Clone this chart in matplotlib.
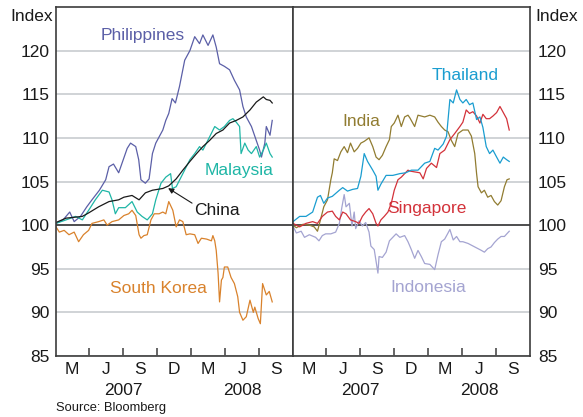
"""
Asian equity indices, two panels (index = 100 at start of Feb 2007).
Output: out.png
"""

import matplotlib
matplotlib.use("Agg")
import matplotlib.pyplot as plt
import matplotlib.transforms as mtransforms
import pandas as pd

# ── Data ─────────────────────────────────────────────────────────────────────
phl_dates = [
    "2007-02-01", "2007-02-20", "2007-03-10", "2007-03-22", "2007-04-08", "2007-04-25",
    "2007-05-09", "2007-05-29", "2007-06-15", "2007-06-24", "2007-07-06", "2007-07-20",
    "2007-08-12", "2007-08-21", "2007-09-04", "2007-09-12", "2007-09-18", "2007-09-30",
    "2007-10-10", "2007-10-19", "2007-10-28", "2007-11-16", "2007-11-24", "2007-12-02",
    "2007-12-11", "2007-12-20", "2007-12-31", "2008-01-14", "2008-01-28", "2008-02-10",
    "2008-02-23", "2008-03-03", "2008-03-17", "2008-03-30", "2008-04-08", "2008-04-17",
    "2008-04-30", "2008-05-14", "2008-05-27", "2008-06-10", "2008-06-19", "2008-06-28",
    "2008-07-12", "2008-07-25", "2008-08-03", "2008-08-08", "2008-08-17", "2008-08-21",
    "2008-08-31", "2008-09-06",
]
phl_values = [
    100.2, 100.6, 101.5, 100.4, 101.0, 102.1, 102.9, 104.0, 105.2, 106.7, 107.0, 106.0,
    108.8, 109.4, 109.0, 107.5, 105.2, 104.8, 105.3, 108.2, 109.4, 110.9, 112.0, 112.8,
    114.5, 114.0, 115.9, 118.9, 120.0, 121.6, 120.8, 121.8, 120.6, 121.8, 120.4, 118.5,
    118.2, 117.8, 116.6, 115.5, 113.6, 112.4, 111.3, 109.7, 108.6, 107.8, 109.4, 111.3,
    110.3, 112.0,
]

chn_dates = [
    "2007-02-01", "2007-02-28", "2007-04-13", "2007-04-30", "2007-05-27", "2007-06-24",
    "2007-07-20", "2007-08-03", "2007-08-25", "2007-09-13", "2007-09-30", "2007-10-19",
    "2007-11-16", "2007-12-02", "2007-12-22", "2008-01-09", "2008-01-28", "2008-02-15",
    "2008-03-03", "2008-03-21", "2008-04-08", "2008-04-26", "2008-05-14", "2008-06-01",
    "2008-06-19", "2008-07-08", "2008-07-25", "2008-08-13", "2008-08-21", "2008-08-31",
    "2008-09-06",
]
chn_values = [
    100.3, 100.8, 101.0, 101.4, 102.1, 102.7, 102.9, 103.2, 103.4, 102.9, 103.7, 104.0,
    104.2, 104.5, 105.3, 106.3, 107.3, 108.2, 109.0, 109.7, 110.5, 110.9, 111.7, 112.0,
    112.4, 113.2, 114.1, 114.7, 114.4, 114.3, 114.0,
]

mys_dates = [
    "2007-02-01", "2007-02-28", "2007-03-26", "2007-04-13", "2007-04-30", "2007-05-18",
    "2007-06-06", "2007-06-24", "2007-07-02", "2007-07-11", "2007-07-20", "2007-08-07",
    "2007-08-25", "2007-09-08", "2007-09-21", "2007-10-05", "2007-10-19", "2007-10-28",
    "2007-11-11", "2007-11-24", "2007-12-07", "2007-12-12", "2007-12-22", "2008-01-09",
    "2008-01-28", "2008-02-10", "2008-02-23", "2008-03-03", "2008-03-21", "2008-04-04",
    "2008-04-17", "2008-04-30", "2008-05-14", "2008-05-23", "2008-06-01", "2008-06-10",
    "2008-06-14", "2008-06-24", "2008-07-03", "2008-07-12", "2008-07-25", "2008-08-03",
    "2008-08-13", "2008-08-21", "2008-08-31", "2008-09-06",
]
mys_values = [
    100.2, 100.6, 101.0, 100.6, 101.7, 102.9, 104.0, 103.8, 102.9, 101.3, 102.0, 102.0,
    102.7, 101.5, 101.0, 100.6, 101.3, 102.9, 104.8, 105.5, 105.9, 104.2, 104.4, 105.9,
    107.5, 108.2, 109.0, 108.6, 110.1, 111.3, 110.9, 111.3, 112.0, 112.2, 111.8, 111.3,
    108.2, 109.4, 108.6, 108.2, 109.0, 107.8, 108.6, 109.4, 108.2, 107.8,
]

kor_dates = [
    "2007-02-01", "2007-02-10", "2007-02-23", "2007-03-08", "2007-03-22", "2007-04-03",
    "2007-04-16", "2007-04-30", "2007-05-09", "2007-05-27", "2007-06-10", "2007-06-19",
    "2007-07-02", "2007-07-20", "2007-08-03", "2007-08-16", "2007-08-25", "2007-09-04",
    "2007-09-13", "2007-09-18", "2007-09-26", "2007-10-05", "2007-10-15", "2007-10-24",
    "2007-11-06", "2007-11-16", "2007-11-24", "2007-12-02", "2007-12-13", "2007-12-22",
    "2007-12-31", "2008-01-09", "2008-01-18", "2008-01-28", "2008-02-10", "2008-02-19",
    "2008-02-28", "2008-03-13", "2008-03-26", "2008-03-30", "2008-04-04", "2008-04-08",
    "2008-04-13", "2008-04-17", "2008-04-22", "2008-04-26", "2008-04-30", "2008-05-09",
    "2008-05-18", "2008-05-27", "2008-06-05", "2008-06-10", "2008-06-19", "2008-06-28",
    "2008-07-08", "2008-07-17", "2008-07-21", "2008-07-30", "2008-08-05", "2008-08-11",
    "2008-08-21", "2008-08-29", "2008-09-06",
]
kor_values = [
    99.8, 99.2, 99.4, 98.9, 99.2, 98.1, 98.9, 99.4, 100.2, 100.4, 100.6, 100.0,
    100.4, 100.6, 101.1, 101.3, 101.7, 101.1, 98.9, 98.5, 98.8, 98.9, 100.6, 101.3,
    101.3, 101.5, 101.3, 102.7, 101.7, 99.8, 100.6, 100.4, 98.9, 99.0, 98.9, 97.9,
    98.5, 98.4, 98.2, 98.8, 98.2, 97.1, 94.5, 91.2, 93.7, 94.0, 95.2, 95.2,
    94.0, 93.3, 91.8, 90.0, 89.1, 89.5, 91.4, 90.0, 90.6, 89.3, 88.7, 93.3,
    92.0, 92.4, 91.2,
]

ind_dates = [
    "2007-02-01", "2007-02-10", "2007-02-28", "2007-03-17", "2007-03-30", "2007-04-08",
    "2007-04-16", "2007-04-25", "2007-05-05", "2007-05-14", "2007-05-18", "2007-05-23",
    "2007-06-01", "2007-06-10", "2007-06-19", "2007-06-28", "2007-07-06", "2007-07-16",
    "2007-07-25", "2007-08-03", "2007-08-12", "2007-08-25", "2007-09-04", "2007-09-13",
    "2007-09-21", "2007-09-30", "2007-10-10", "2007-10-19", "2007-10-24", "2007-11-01",
    "2007-11-11", "2007-11-20", "2007-11-29", "2007-12-08", "2007-12-13", "2007-12-26",
    "2008-01-04", "2008-01-22", "2008-02-05", "2008-02-18", "2008-02-27", "2008-03-07",
    "2008-03-16", "2008-03-25", "2008-04-03", "2008-04-12", "2008-04-21", "2008-05-04",
    "2008-05-18", "2008-05-27", "2008-06-05", "2008-06-10", "2008-06-14", "2008-06-23",
    "2008-07-01", "2008-07-10", "2008-07-19", "2008-07-28", "2008-08-06", "2008-08-15",
    "2008-08-24", "2008-08-31", "2008-09-06",
]
ind_values = [
    100.0, 99.7, 100.1, 100.0, 99.8, 99.3, 100.6, 102.1, 102.9, 105.2, 106.0, 107.6,
    107.4, 108.4, 109.0, 108.3, 109.4, 108.4, 108.8, 109.4, 109.6, 110.0, 109.0, 107.8,
    107.5, 108.0, 109.0, 109.8, 111.3, 111.7, 112.6, 111.3, 112.4, 112.6, 112.3, 111.3,
    112.6, 112.4, 112.6, 112.4, 111.8, 111.3, 110.9, 110.7, 109.7, 109.0, 110.5, 110.9,
    110.9, 110.2, 108.2, 105.9, 104.4, 103.7, 104.0, 103.2, 103.4, 102.7, 102.3, 102.8,
    104.4, 105.2, 105.3,
]

tha_dates = [
    "2007-02-01", "2007-02-19", "2007-03-08", "2007-03-26", "2007-04-08", "2007-04-16",
    "2007-04-25", "2007-05-05", "2007-05-18", "2007-06-06", "2007-06-15", "2007-06-28",
    "2007-07-12", "2007-07-25", "2007-08-03", "2007-08-12", "2007-08-21", "2007-09-04",
    "2007-09-13", "2007-09-18", "2007-09-26", "2007-10-10", "2007-10-28", "2007-11-16",
    "2007-12-02", "2007-12-17", "2008-01-04", "2008-01-22", "2008-02-05", "2008-02-18",
    "2008-02-27", "2008-03-12", "2008-03-21", "2008-03-30", "2008-04-08", "2008-04-17",
    "2008-04-26", "2008-05-04", "2008-05-13", "2008-05-22", "2008-05-31", "2008-06-10",
    "2008-06-19", "2008-06-27", "2008-07-06", "2008-07-15", "2008-07-24", "2008-08-03",
    "2008-08-12", "2008-08-21", "2008-08-30", "2008-09-06",
]
tha_values = [
    100.4, 101.0, 101.0, 101.5, 103.2, 103.4, 102.5, 103.1, 103.3, 104.0, 104.3, 103.9,
    104.1, 104.2, 105.6, 108.2, 107.3, 106.3, 105.6, 104.0, 104.7, 105.7, 105.7, 105.9,
    106.0, 106.3, 106.3, 107.1, 107.3, 108.8, 108.6, 109.3, 110.2, 114.4, 114.0, 115.5,
    114.4, 114.0, 114.4, 113.8, 114.0, 112.1, 112.4, 111.2, 109.0, 108.2, 108.6, 107.8,
    107.1, 107.8, 107.5, 107.3,
]

sgp_dates = [
    "2007-02-01", "2007-02-19", "2007-03-08", "2007-03-26", "2007-04-08", "2007-04-21",
    "2007-05-05", "2007-05-18", "2007-05-27", "2007-06-06", "2007-06-15", "2007-06-24",
    "2007-07-06", "2007-07-20", "2007-07-29", "2007-08-07", "2007-08-16", "2007-08-25",
    "2007-09-04", "2007-09-13", "2007-09-18", "2007-09-26", "2007-10-05", "2007-10-15",
    "2007-10-24", "2007-11-01", "2007-11-11", "2007-11-20", "2007-11-29", "2007-12-08",
    "2007-12-13", "2007-12-26", "2008-01-09", "2008-01-18", "2008-01-27", "2008-02-09",
    "2008-02-23", "2008-03-03", "2008-03-16", "2008-03-30", "2008-04-12", "2008-04-26",
    "2008-05-04", "2008-05-13", "2008-05-22", "2008-05-31", "2008-06-10", "2008-06-19",
    "2008-06-27", "2008-07-06", "2008-07-15", "2008-07-24", "2008-08-03", "2008-08-12",
    "2008-08-21", "2008-08-30", "2008-09-06",
]
sgp_values = [
    100.2, 99.8, 100.2, 100.4, 100.2, 101.0, 101.5, 101.6, 101.0, 100.6, 101.5, 101.3,
    100.6, 100.4, 100.2, 101.0, 101.5, 101.9, 101.3, 100.2, 99.9, 100.6, 101.0, 101.5,
    102.5, 104.0, 105.2, 105.5, 105.9, 106.3, 106.2, 106.1, 106.0, 105.3, 106.5, 107.1,
    106.6, 108.2, 108.6, 109.8, 110.5, 111.3, 111.8, 113.2, 112.8, 113.0, 112.5, 111.7,
    112.7, 112.2, 112.2, 112.5, 112.9, 113.6, 112.9, 112.2, 110.9,
]

idn_dates = [
    "2007-02-01", "2007-02-10", "2007-02-23", "2007-03-04", "2007-03-17", "2007-04-03",
    "2007-04-12", "2007-04-21", "2007-04-30", "2007-05-14", "2007-05-27", "2007-06-06",
    "2007-06-13", "2007-06-19", "2007-06-24", "2007-07-03", "2007-07-10", "2007-07-16",
    "2007-07-20", "2007-07-29", "2007-08-07", "2007-08-16", "2007-08-25", "2007-08-30",
    "2007-09-08", "2007-09-18", "2007-09-21", "2007-09-30", "2007-10-10", "2007-10-19",
    "2007-10-28", "2007-11-06", "2007-11-16", "2007-11-29", "2007-12-08", "2007-12-17",
    "2007-12-26", "2008-01-04", "2008-01-13", "2008-01-22", "2008-02-05", "2008-02-18",
    "2008-02-27", "2008-03-07", "2008-03-16", "2008-03-25", "2008-03-30", "2008-04-08",
    "2008-04-17", "2008-04-26", "2008-05-04", "2008-05-18", "2008-05-27", "2008-06-05",
    "2008-06-14", "2008-06-23", "2008-07-01", "2008-07-10", "2008-07-19", "2008-07-28",
    "2008-08-06", "2008-08-15", "2008-08-24", "2008-09-06",
]
idn_values = [
    99.9, 99.1, 99.3, 98.6, 98.9, 98.6, 98.2, 98.8, 99.0, 99.0, 99.2, 100.2,
    102.1, 103.5, 102.1, 102.5, 99.9, 101.5, 99.6, 100.5, 99.9, 100.3, 99.2, 97.6,
    97.2, 94.5, 96.4, 96.3, 96.9, 98.2, 98.6, 99.0, 98.6, 98.8, 98.1, 97.2,
    96.2, 97.1, 96.4, 95.6, 95.5, 94.9, 96.6, 98.1, 98.4, 99.1, 99.5, 98.3,
    98.7, 98.1, 98.1, 97.9, 97.7, 97.5, 97.3, 97.1, 96.9, 97.3, 97.5, 98.0,
    98.4, 98.7, 98.7, 99.3,
]

# axis furniture
x_range = ["2007-02-01", "2008-11-01"]
quarter_ticks = ["2007-05-01", "2007-08-01", "2007-11-01", "2008-02-01", "2008-05-01", "2008-08-01"]
month_label_dates = ["2007-03-16", "2007-06-16", "2007-09-16", "2007-12-16",
                     "2008-03-16", "2008-06-16", "2008-09-16"]
month_labels = ["M", "J", "S", "D", "M", "J", "S"]
year_label_dates = ["2007-08-01", "2008-06-18"]
year_labels = ["2007", "2008"]
y_ticks = [85, 90, 95, 100, 105, 110, 115, 120]

# ── Style ─────────────────────────────────────────────────────────────────────
C_PHL = "#5b5fa7"
C_CHN = "#1a1a1a"
C_MYS = "#1fb6a6"
C_KOR = "#d9822c"
C_THA = "#1a9dd0"
C_IND = "#917c31"
C_SGP = "#d3323a"
C_IDN = "#a4a4d1"
FRAME = "#3c3c3c"
GRID = "#c3c7cc"
FS = 12.5

plt.rcParams.update({
    "font.family": ["Liberation Sans", "DejaVu Sans"],
    "font.size": FS,
    "text.color": "#1a1a1a",
    "xtick.color": FRAME,
    "ytick.color": FRAME,
    "xtick.labelcolor": "#1a1a1a",
    "ytick.labelcolor": "#1a1a1a",
})

W, H = 583, 417


def to_dt(values):
    return pd.to_datetime(values)


def setup_panel(fig, ax, side):
    """Frame, grid, ticks and date labels shared by both panels."""
    ax.set_xlim(to_dt(x_range))
    ax.set_ylim(85, 125)
    for sp in ax.spines.values():
        sp.set_color(FRAME)
        sp.set_linewidth(1.2)

    ax.set_yticks(y_ticks)
    ax.yaxis.grid(True, color=GRID, lw=1.1, zorder=0)
    ax.set_axisbelow(True)
    ax.axhline(100, color="#2a2a2a", lw=1.1, zorder=1.5)
    if side == "right":
        ax.yaxis.tick_right()
        ax.tick_params(axis="y", length=0, labelsize=FS, pad=5.6)
    else:
        ax.tick_params(axis="y", length=0, labelsize=FS, pad=4.4)

    ax.set_xticks(to_dt(quarter_ticks))
    ax.set_xticklabels([])
    ax.tick_params(axis="x", which="major", direction="in", length=6, width=1.1)
    ax.set_xticks(to_dt(month_label_dates), minor=True)
    ax.set_xticklabels(month_labels, minor=True)
    ax.tick_params(axis="x", which="minor", length=0, labelsize=FS, pad=4.6)

    trans = mtransforms.blended_transform_factory(ax.transData, fig.transFigure)
    for d, lab in zip(to_dt(year_label_dates), year_labels):
        ax.text(d, (H - 395) / H, lab, transform=trans, ha="center", va="baseline",
                fontsize=FS, clip_on=False)


def main() -> None:
    fig = plt.figure(figsize=(W / 100, H / 100), dpi=100)
    bottom = (H - 356) / H
    height = (356 - 7) / H
    ax_l = fig.add_axes([56 / W, bottom, 237 / W, height])
    ax_r = fig.add_axes([293 / W, bottom, 237 / W, height])

    setup_panel(fig, ax_l, "left")
    setup_panel(fig, ax_r, "right")

    lw = 0.9
    ax_l.plot(to_dt(phl_dates), phl_values, color=C_PHL, lw=lw, zorder=2)
    ax_l.plot(to_dt(mys_dates), mys_values, color=C_MYS, lw=lw, zorder=2.1)
    ax_l.plot(to_dt(chn_dates), chn_values, color=C_CHN, lw=lw, zorder=2.2)
    ax_l.plot(to_dt(kor_dates), kor_values, color=C_KOR, lw=lw, zorder=2.3)

    ax_r.plot(to_dt(idn_dates), idn_values, color=C_IDN, lw=lw, zorder=2)
    ax_r.plot(to_dt(ind_dates), ind_values, color=C_IND, lw=lw, zorder=2.1)
    ax_r.plot(to_dt(sgp_dates), sgp_values, color=C_SGP, lw=lw, zorder=2.2)
    ax_r.plot(to_dt(tha_dates), tha_values, color=C_THA, lw=lw, zorder=2.3)

    # series labels (axes fraction, baseline)
    ax_l.text(0.365, 0.905, "Philippines", color=C_PHL, transform=ax_l.transAxes,
              ha="center", va="baseline")
    ax_l.text(0.772, 0.519, "Malaysia", color=C_MYS, transform=ax_l.transAxes,
              ha="center", va="baseline")
    ax_l.text(0.681, 0.404, "China", color=C_CHN, transform=ax_l.transAxes,
              ha="center", va="baseline")
    ax_l.text(0.4325, 0.180, "South Korea", color=C_KOR, transform=ax_l.transAxes,
              ha="center", va="baseline")
    ax_l.annotate("", xy=(0.473, 0.481), xytext=(0.574, 0.438),
                  xycoords="axes fraction", textcoords="axes fraction",
                  arrowprops=dict(arrowstyle="-|>", color=C_CHN, lw=0.8,
                                  mutation_scale=8, shrinkA=0, shrinkB=0))

    ax_r.text(0.726, 0.791, "Thailand", color=C_THA, transform=ax_r.transAxes,
              ha="center", va="baseline")
    ax_r.text(0.289, 0.659, "India", color=C_IND, transform=ax_r.transAxes,
              ha="center", va="baseline")
    ax_r.text(0.565, 0.409, "Singapore", color=C_SGP, transform=ax_r.transAxes,
              ha="center", va="baseline")
    ax_r.text(0.572, 0.184, "Indonesia", color=C_IDN, transform=ax_r.transAxes,
              ha="center", va="baseline")

    # unit labels and source
    fig.text(52.7 / W, (H - 20.7) / H, "Index", ha="right", va="baseline", fontsize=FS)
    fig.text(535 / W, (H - 20.7) / H, "Index", ha="left", va="baseline", fontsize=FS)
    fig.text(56 / W, (H - 410.7) / H, "Source: Bloomberg", ha="left", va="baseline",
             fontsize=9.3)

    fig.savefig("out.png", dpi=100)
    plt.close(fig)


if __name__ == "__main__":
    main()
